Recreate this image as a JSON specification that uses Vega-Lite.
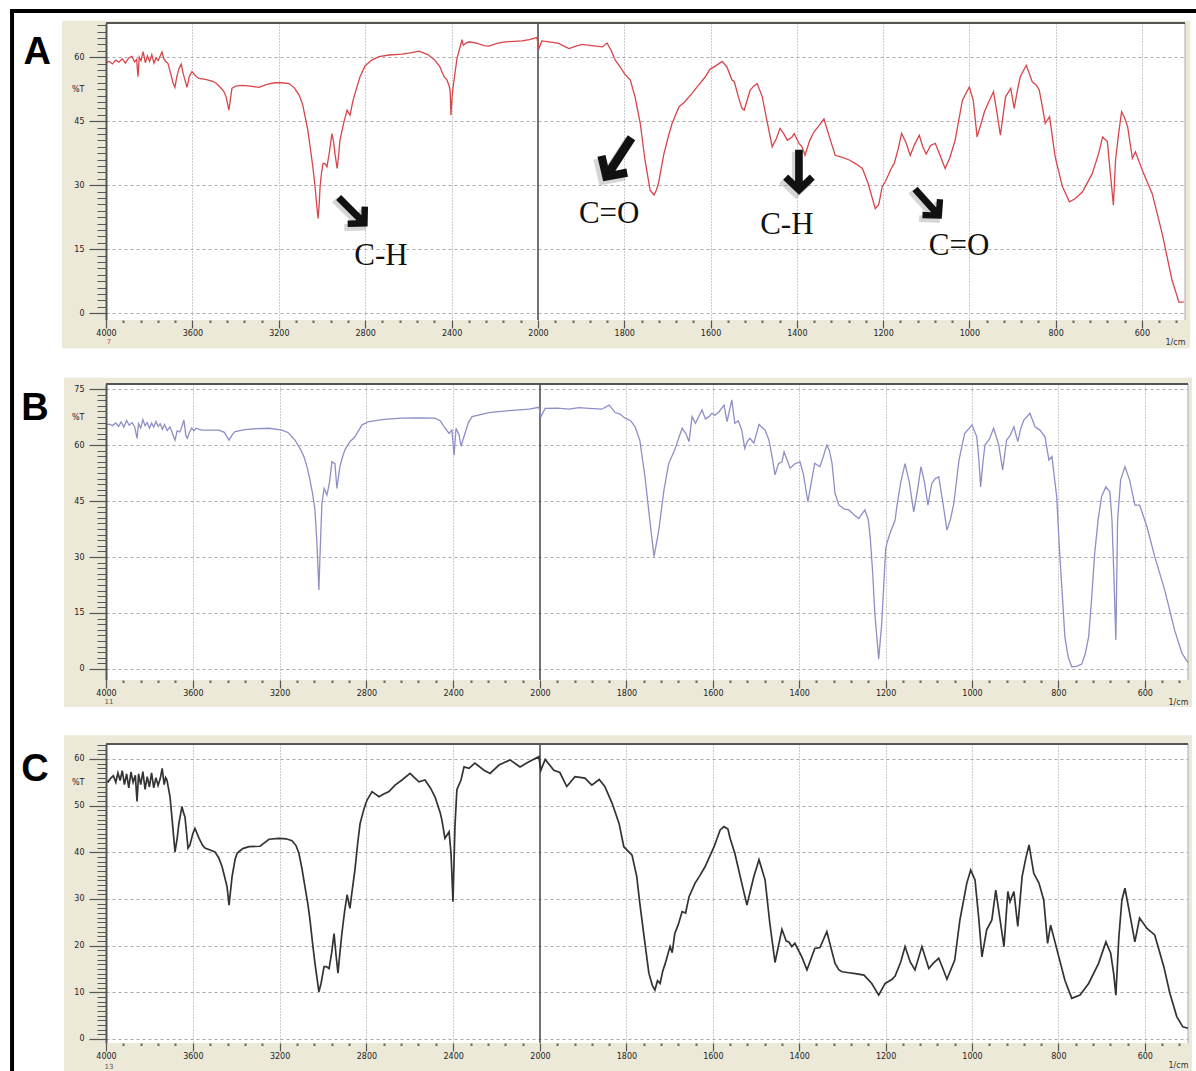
{
  "$schema": "https://vega.github.io/schema/vega-lite/v6.json",
  "padding": {"left": 8, "top": 9, "right": 0, "bottom": 0},
  "background": "white",
  "bounds": "flush",
  "spacing": 64,
  "config": {
    "view": {"stroke": null, "fill": "white"},
    "axis": {"labelFont": "DejaVu Sans", "labelFontSize": 8, "labelColor": "#222", "titleFont": "DejaVu Sans", "labelOverlap": false, "labelFlush": false}
  },
  "datasets": {
    "a": [
      {"wn":4000,"t":58.7},{"wn":3985,"t":59.0},{"wn":3970,"t":58.4},{"wn":3955,"t":59.3},{"wn":3940,"t":58.8},{"wn":3925,"t":59.6},{"wn":3910,"t":58.6},{"wn":3895,"t":59.8},{"wn":3880,"t":60.2},{"wn":3868,"t":58.9},{"wn":3858,"t":59.5},{"wn":3852,"t":55.4},{"wn":3846,"t":60.0},{"wn":3838,"t":59.2},{"wn":3828,"t":61.3},{"wn":3818,"t":58.7},{"wn":3808,"t":60.3},{"wn":3798,"t":59.0},{"wn":3788,"t":60.6},{"wn":3778,"t":58.6},{"wn":3768,"t":59.8},{"wn":3758,"t":59.2},{"wn":3748,"t":60.4},{"wn":3741,"t":61.2},{"wn":3732,"t":59.6},{"wn":3722,"t":58.9},{"wn":3713,"t":58.5},{"wn":3700,"t":56.0},{"wn":3690,"t":54.0},{"wn":3681,"t":52.9},{"wn":3672,"t":55.5},{"wn":3662,"t":57.3},{"wn":3652,"t":58.4},{"wn":3642,"t":56.0},{"wn":3632,"t":54.2},{"wn":3625,"t":52.9},{"wn":3614,"t":55.5},{"wn":3602,"t":56.6},{"wn":3585,"t":55.6},{"wn":3570,"t":55.0},{"wn":3540,"t":54.8},{"wn":3509,"t":54.4},{"wn":3490,"t":53.9},{"wn":3472,"t":53.0},{"wn":3455,"t":52.0},{"wn":3444,"t":50.7},{"wn":3431,"t":47.6},{"wn":3417,"t":52.7},{"wn":3400,"t":53.2},{"wn":3370,"t":53.4},{"wn":3330,"t":53.2},{"wn":3292,"t":52.9},{"wn":3255,"t":53.6},{"wn":3218,"t":54.0},{"wn":3185,"t":54.0},{"wn":3153,"t":53.8},{"wn":3128,"t":52.8},{"wn":3106,"t":51.1},{"wn":3090,"t":49.0},{"wn":3078,"t":46.0},{"wn":3066,"t":43.0},{"wn":3055,"t":39.0},{"wn":3043,"t":34.5},{"wn":3032,"t":29.6},{"wn":3024,"t":25.0},{"wn":3018,"t":22.2},{"wn":3013,"t":25.5},{"wn":3009,"t":29.6},{"wn":3002,"t":33.0},{"wn":2995,"t":35.1},{"wn":2985,"t":35.0},{"wn":2977,"t":34.3},{"wn":2965,"t":38.0},{"wn":2954,"t":42.1},{"wn":2946,"t":40.0},{"wn":2940,"t":37.4},{"wn":2930,"t":33.9},{"wn":2923,"t":37.0},{"wn":2917,"t":40.5},{"wn":2900,"t":44.5},{"wn":2884,"t":47.6},{"wn":2870,"t":46.4},{"wn":2858,"t":49.5},{"wn":2847,"t":51.5},{"wn":2824,"t":55.4},{"wn":2800,"t":58.0},{"wn":2770,"t":59.3},{"wn":2736,"t":60.1},{"wn":2690,"t":60.5},{"wn":2630,"t":60.7},{"wn":2590,"t":61.0},{"wn":2551,"t":61.4},{"wn":2510,"t":60.6},{"wn":2477,"t":59.3},{"wn":2455,"t":57.8},{"wn":2435,"t":55.4},{"wn":2421,"t":54.6},{"wn":2410,"t":53.0},{"wn":2407,"t":52.3},{"wn":2403,"t":46.4},{"wn":2398,"t":50.5},{"wn":2393,"t":53.0},{"wn":2375,"t":59.7},{"wn":2360,"t":62.5},{"wn":2352,"t":64.1},{"wn":2346,"t":62.8},{"wn":2330,"t":63.4},{"wn":2319,"t":63.6},{"wn":2280,"t":63.2},{"wn":2250,"t":62.7},{"wn":2227,"t":62.6},{"wn":2190,"t":63.2},{"wn":2153,"t":63.6},{"wn":2110,"t":63.7},{"wn":2074,"t":63.8},{"wn":2040,"t":64.1},{"wn":2005,"t":64.6},{"wn":1998,"t":62.0},{"wn":1991,"t":63.8},{"wn":1970,"t":63.5},{"wn":1952,"t":63.2},{"wn":1940,"t":62.6},{"wn":1928,"t":62.0},{"wn":1912,"t":62.6},{"wn":1898,"t":63.0},{"wn":1875,"t":62.7},{"wn":1851,"t":62.4},{"wn":1840,"t":63.3},{"wn":1830,"t":61.5},{"wn":1821,"t":59.3},{"wn":1810,"t":57.8},{"wn":1800,"t":56.2},{"wn":1786,"t":54.6},{"wn":1775,"t":50.7},{"wn":1763,"t":44.5},{"wn":1752,"t":35.9},{"wn":1740,"t":28.8},{"wn":1731,"t":27.7},{"wn":1725,"t":29.0},{"wn":1720,"t":30.8},{"wn":1708,"t":37.4},{"wn":1696,"t":42.1},{"wn":1689,"t":44.5},{"wn":1673,"t":48.4},{"wn":1660,"t":49.5},{"wn":1643,"t":51.5},{"wn":1625,"t":53.8},{"wn":1612,"t":55.4},{"wn":1601,"t":57.2},{"wn":1589,"t":57.9},{"wn":1573,"t":59.0},{"wn":1562,"t":57.7},{"wn":1550,"t":54.6},{"wn":1545,"t":54.3},{"wn":1535,"t":50.5},{"wn":1527,"t":48.0},{"wn":1522,"t":47.6},{"wn":1508,"t":52.3},{"wn":1500,"t":53.2},{"wn":1492,"t":53.8},{"wn":1480,"t":50.7},{"wn":1470,"t":45.5},{"wn":1457,"t":39.0},{"wn":1447,"t":41.0},{"wn":1439,"t":43.3},{"wn":1430,"t":42.0},{"wn":1422,"t":40.5},{"wn":1411,"t":41.3},{"wn":1406,"t":42.1},{"wn":1395,"t":39.8},{"wn":1388,"t":39.0},{"wn":1381,"t":37.0},{"wn":1370,"t":40.5},{"wn":1360,"t":42.5},{"wn":1348,"t":44.0},{"wn":1337,"t":45.5},{"wn":1325,"t":41.5},{"wn":1311,"t":37.0},{"wn":1295,"t":36.5},{"wn":1278,"t":35.9},{"wn":1263,"t":35.0},{"wn":1248,"t":33.9},{"wn":1235,"t":30.5},{"wn":1218,"t":24.5},{"wn":1210,"t":25.5},{"wn":1202,"t":29.6},{"wn":1195,"t":30.8},{"wn":1179,"t":34.3},{"wn":1174,"t":35.1},{"wn":1165,"t":38.5},{"wn":1157,"t":42.1},{"wn":1147,"t":40.0},{"wn":1137,"t":37.0},{"wn":1127,"t":39.5},{"wn":1116,"t":41.7},{"wn":1108,"t":39.0},{"wn":1100,"t":37.3},{"wn":1090,"t":39.3},{"wn":1079,"t":39.8},{"wn":1068,"t":37.0},{"wn":1056,"t":33.9},{"wn":1045,"t":36.5},{"wn":1033,"t":40.5},{"wn":1016,"t":49.9},{"wn":1000,"t":53.0},{"wn":991,"t":49.9},{"wn":982,"t":41.3},{"wn":974,"t":44.0},{"wn":965,"t":47.2},{"wn":955,"t":49.5},{"wn":944,"t":51.9},{"wn":936,"t":47.0},{"wn":928,"t":41.7},{"wn":916,"t":50.7},{"wn":904,"t":52.7},{"wn":896,"t":48.0},{"wn":889,"t":52.0},{"wn":882,"t":55.4},{"wn":868,"t":58.1},{"wn":854,"t":54.2},{"wn":845,"t":53.5},{"wn":838,"t":52.3},{"wn":830,"t":48.0},{"wn":824,"t":44.5},{"wn":814,"t":46.0},{"wn":801,"t":36.6},{"wn":784,"t":29.6},{"wn":768,"t":26.1},{"wn":755,"t":26.8},{"wn":738,"t":28.4},{"wn":715,"t":32.7},{"wn":700,"t":37.5},{"wn":691,"t":41.3},{"wn":680,"t":40.2},{"wn":673,"t":32.7},{"wn":666,"t":25.3},{"wn":661,"t":35.9},{"wn":654,"t":42.0},{"wn":647,"t":47.2},{"wn":640,"t":45.8},{"wn":633,"t":43.7},{"wn":622,"t":36.3},{"wn":615,"t":37.8},{"wn":599,"t":33.5},{"wn":576,"t":28.0},{"wn":553,"t":18.7},{"wn":530,"t":7.7},{"wn":514,"t":2.6},{"wn":503,"t":2.6}
    ],
    "b": [
      {"wn":4000,"t":65.4},{"wn":3985,"t":65.6},{"wn":3970,"t":65.2},{"wn":3955,"t":65.9},{"wn":3942,"t":65.0},{"wn":3930,"t":66.2},{"wn":3918,"t":64.8},{"wn":3905,"t":66.6},{"wn":3893,"t":65.3},{"wn":3880,"t":66.0},{"wn":3868,"t":64.9},{"wn":3857,"t":61.8},{"wn":3850,"t":65.7},{"wn":3840,"t":64.6},{"wn":3830,"t":66.8},{"wn":3820,"t":65.2},{"wn":3810,"t":66.0},{"wn":3800,"t":64.5},{"wn":3790,"t":65.9},{"wn":3780,"t":64.8},{"wn":3770,"t":66.3},{"wn":3760,"t":65.0},{"wn":3750,"t":65.7},{"wn":3740,"t":64.2},{"wn":3730,"t":65.5},{"wn":3718,"t":63.9},{"wn":3705,"t":64.8},{"wn":3693,"t":63.0},{"wn":3682,"t":61.3},{"wn":3672,"t":63.8},{"wn":3660,"t":63.5},{"wn":3650,"t":65.0},{"wn":3641,"t":66.7},{"wn":3632,"t":62.5},{"wn":3625,"t":61.8},{"wn":3615,"t":63.5},{"wn":3605,"t":64.6},{"wn":3595,"t":63.8},{"wn":3585,"t":64.5},{"wn":3570,"t":64.2},{"wn":3558,"t":64.0},{"wn":3520,"t":64.0},{"wn":3479,"t":64.0},{"wn":3455,"t":63.4},{"wn":3433,"t":61.3},{"wn":3418,"t":62.8},{"wn":3405,"t":63.6},{"wn":3360,"t":64.1},{"wn":3300,"t":64.4},{"wn":3249,"t":64.5},{"wn":3189,"t":64.0},{"wn":3160,"t":63.3},{"wn":3129,"t":61.3},{"wn":3105,"t":59.0},{"wn":3088,"t":56.9},{"wn":3073,"t":54.0},{"wn":3060,"t":50.6},{"wn":3048,"t":47.0},{"wn":3037,"t":42.6},{"wn":3028,"t":33.7},{"wn":3019,"t":21.2},{"wn":3014,"t":30.1},{"wn":3005,"t":44.4},{"wn":2995,"t":48.4},{"wn":2982,"t":46.6},{"wn":2970,"t":50.0},{"wn":2959,"t":55.5},{"wn":2945,"t":55.0},{"wn":2936,"t":48.4},{"wn":2922,"t":54.2},{"wn":2910,"t":56.8},{"wn":2899,"t":58.7},{"wn":2876,"t":60.9},{"wn":2853,"t":62.2},{"wn":2820,"t":65.4},{"wn":2788,"t":66.3},{"wn":2720,"t":66.9},{"wn":2636,"t":67.2},{"wn":2560,"t":67.3},{"wn":2484,"t":67.2},{"wn":2460,"t":66.5},{"wn":2442,"t":64.9},{"wn":2419,"t":63.1},{"wn":2406,"t":64.0},{"wn":2396,"t":57.3},{"wn":2387,"t":64.5},{"wn":2373,"t":62.7},{"wn":2364,"t":59.7},{"wn":2346,"t":63.1},{"wn":2330,"t":66.0},{"wn":2313,"t":67.6},{"wn":2235,"t":68.7},{"wn":2143,"t":69.2},{"wn":2051,"t":69.6},{"wn":2005,"t":70.1},{"wn":1998,"t":67.6},{"wn":1988,"t":69.8},{"wn":1960,"t":69.9},{"wn":1933,"t":69.6},{"wn":1910,"t":70.0},{"wn":1887,"t":69.8},{"wn":1857,"t":69.6},{"wn":1840,"t":70.7},{"wn":1826,"t":68.7},{"wn":1815,"t":68.3},{"wn":1803,"t":67.2},{"wn":1790,"t":66.5},{"wn":1780,"t":64.9},{"wn":1769,"t":61.3},{"wn":1757,"t":51.5},{"wn":1745,"t":39.0},{"wn":1736,"t":30.1},{"wn":1725,"t":37.2},{"wn":1713,"t":48.0},{"wn":1702,"t":55.1},{"wn":1688,"t":58.7},{"wn":1680,"t":61.5},{"wn":1671,"t":64.5},{"wn":1662,"t":63.0},{"wn":1655,"t":60.9},{"wn":1648,"t":67.6},{"wn":1640,"t":65.8},{"wn":1632,"t":67.8},{"wn":1625,"t":69.4},{"wn":1617,"t":67.0},{"wn":1609,"t":67.6},{"wn":1602,"t":68.5},{"wn":1595,"t":68.0},{"wn":1585,"t":69.0},{"wn":1574,"t":70.7},{"wn":1567,"t":66.3},{"wn":1561,"t":69.5},{"wn":1556,"t":72.1},{"wn":1549,"t":65.8},{"wn":1541,"t":66.5},{"wn":1533,"t":64.0},{"wn":1526,"t":59.1},{"wn":1520,"t":61.0},{"wn":1514,"t":61.8},{"wn":1505,"t":60.5},{"wn":1493,"t":65.5},{"wn":1479,"t":64.0},{"wn":1470,"t":61.3},{"wn":1463,"t":57.0},{"wn":1456,"t":52.0},{"wn":1448,"t":55.0},{"wn":1440,"t":55.5},{"wn":1435,"t":58.2},{"wn":1428,"t":56.0},{"wn":1421,"t":53.8},{"wn":1410,"t":55.0},{"wn":1398,"t":55.5},{"wn":1390,"t":52.0},{"wn":1380,"t":44.8},{"wn":1372,"t":50.0},{"wn":1364,"t":55.1},{"wn":1352,"t":54.2},{"wn":1344,"t":57.0},{"wn":1336,"t":60.0},{"wn":1330,"t":58.5},{"wn":1324,"t":55.1},{"wn":1317,"t":47.0},{"wn":1308,"t":43.9},{"wn":1295,"t":42.8},{"wn":1285,"t":42.6},{"wn":1272,"t":41.2},{"wn":1262,"t":40.3},{"wn":1255,"t":41.5},{"wn":1248,"t":42.6},{"wn":1240,"t":40.0},{"wn":1236,"t":35.8},{"wn":1230,"t":26.0},{"wn":1225,"t":15.0},{"wn":1216,"t":2.7},{"wn":1209,"t":12.2},{"wn":1204,"t":23.0},{"wn":1200,"t":31.9},{"wn":1197,"t":33.7},{"wn":1190,"t":36.3},{"wn":1178,"t":39.9},{"wn":1174,"t":43.5},{"wn":1165,"t":50.0},{"wn":1155,"t":55.0},{"wn":1145,"t":50.0},{"wn":1135,"t":42.1},{"wn":1126,"t":48.0},{"wn":1118,"t":54.2},{"wn":1110,"t":50.0},{"wn":1102,"t":43.9},{"wn":1093,"t":49.7},{"wn":1085,"t":51.0},{"wn":1077,"t":51.5},{"wn":1068,"t":45.0},{"wn":1058,"t":37.2},{"wn":1050,"t":40.0},{"wn":1042,"t":44.4},{"wn":1030,"t":56.0},{"wn":1017,"t":63.1},{"wn":1000,"t":65.4},{"wn":989,"t":62.2},{"wn":984,"t":56.0},{"wn":980,"t":48.8},{"wn":975,"t":55.0},{"wn":970,"t":60.0},{"wn":960,"t":61.5},{"wn":950,"t":64.5},{"wn":938,"t":60.0},{"wn":929,"t":53.3},{"wn":920,"t":61.3},{"wn":912,"t":62.5},{"wn":903,"t":64.9},{"wn":894,"t":60.9},{"wn":887,"t":64.5},{"wn":880,"t":66.7},{"wn":866,"t":68.5},{"wn":854,"t":64.9},{"wn":843,"t":64.0},{"wn":831,"t":62.2},{"wn":822,"t":56.0},{"wn":815,"t":56.9},{"wn":810,"t":52.0},{"wn":804,"t":46.2},{"wn":797,"t":31.0},{"wn":790,"t":18.0},{"wn":785,"t":8.6},{"wn":777,"t":3.0},{"wn":769,"t":0.6},{"wn":758,"t":0.7},{"wn":746,"t":1.3},{"wn":738,"t":4.0},{"wn":730,"t":8.6},{"wn":723,"t":19.0},{"wn":716,"t":31.0},{"wn":708,"t":40.0},{"wn":700,"t":46.2},{"wn":690,"t":48.8},{"wn":681,"t":47.5},{"wn":676,"t":40.0},{"wn":672,"t":26.5},{"wn":667,"t":7.8},{"wn":663,"t":39.9},{"wn":656,"t":50.6},{"wn":646,"t":54.2},{"wn":635,"t":50.6},{"wn":623,"t":43.9},{"wn":612,"t":43.9},{"wn":595,"t":38.1},{"wn":577,"t":30.1},{"wn":554,"t":21.2},{"wn":531,"t":10.4},{"wn":514,"t":4.2},{"wn":500,"t":1.7}
    ],
    "c": [
      {"wn":4000,"t":55.3},{"wn":3990,"t":55.1},{"wn":3978,"t":55.9},{"wn":3966,"t":56.4},{"wn":3955,"t":55.0},{"wn":3945,"t":57.0},{"wn":3935,"t":55.4},{"wn":3925,"t":57.5},{"wn":3915,"t":54.5},{"wn":3905,"t":56.8},{"wn":3895,"t":53.8},{"wn":3885,"t":57.2},{"wn":3875,"t":55.0},{"wn":3865,"t":56.5},{"wn":3857,"t":50.9},{"wn":3850,"t":56.8},{"wn":3840,"t":54.5},{"wn":3830,"t":57.3},{"wn":3820,"t":53.5},{"wn":3810,"t":56.2},{"wn":3800,"t":54.0},{"wn":3790,"t":57.0},{"wn":3780,"t":53.8},{"wn":3770,"t":56.0},{"wn":3760,"t":54.3},{"wn":3750,"t":55.8},{"wn":3741,"t":58.0},{"wn":3732,"t":54.5},{"wn":3725,"t":56.0},{"wn":3719,"t":55.5},{"wn":3705,"t":51.9},{"wn":3695,"t":46.9},{"wn":3682,"t":40.1},{"wn":3672,"t":43.0},{"wn":3664,"t":46.2},{"wn":3650,"t":49.8},{"wn":3643,"t":48.5},{"wn":3636,"t":47.6},{"wn":3622,"t":40.9},{"wn":3613,"t":41.6},{"wn":3600,"t":44.0},{"wn":3590,"t":45.1},{"wn":3571,"t":43.0},{"wn":3555,"t":41.5},{"wn":3544,"t":40.9},{"wn":3520,"t":40.5},{"wn":3498,"t":40.1},{"wn":3480,"t":38.8},{"wn":3465,"t":36.9},{"wn":3452,"t":34.5},{"wn":3442,"t":32.6},{"wn":3433,"t":28.7},{"wn":3419,"t":34.8},{"wn":3405,"t":38.5},{"wn":3396,"t":39.8},{"wn":3370,"t":40.8},{"wn":3341,"t":41.2},{"wn":3290,"t":41.3},{"wn":3249,"t":42.8},{"wn":3203,"t":43.0},{"wn":3170,"t":42.9},{"wn":3143,"t":42.5},{"wn":3125,"t":41.5},{"wn":3111,"t":39.8},{"wn":3097,"t":36.5},{"wn":3083,"t":32.6},{"wn":3070,"t":29.0},{"wn":3060,"t":25.5},{"wn":3048,"t":20.5},{"wn":3037,"t":16.2},{"wn":3026,"t":12.5},{"wn":3019,"t":10.1},{"wn":3009,"t":11.9},{"wn":2995,"t":15.5},{"wn":2985,"t":15.5},{"wn":2972,"t":15.1},{"wn":2960,"t":18.5},{"wn":2949,"t":22.6},{"wn":2940,"t":18.0},{"wn":2931,"t":14.1},{"wn":2922,"t":18.5},{"wn":2913,"t":22.6},{"wn":2900,"t":27.5},{"wn":2889,"t":30.9},{"wn":2876,"t":28.0},{"wn":2865,"t":32.0},{"wn":2853,"t":36.2},{"wn":2840,"t":42.0},{"wn":2829,"t":46.2},{"wn":2810,"t":49.5},{"wn":2797,"t":51.2},{"wn":2774,"t":53.0},{"wn":2742,"t":51.9},{"wn":2720,"t":52.5},{"wn":2696,"t":53.0},{"wn":2668,"t":54.4},{"wn":2636,"t":55.5},{"wn":2599,"t":56.9},{"wn":2558,"t":55.1},{"wn":2530,"t":55.5},{"wn":2505,"t":53.8},{"wn":2484,"t":51.9},{"wn":2460,"t":48.5},{"wn":2452,"t":46.9},{"wn":2438,"t":43.0},{"wn":2419,"t":44.4},{"wn":2410,"t":39.8},{"wn":2401,"t":29.4},{"wn":2392,"t":45.5},{"wn":2383,"t":53.4},{"wn":2364,"t":55.5},{"wn":2350,"t":58.3},{"wn":2327,"t":58.0},{"wn":2300,"t":59.1},{"wn":2258,"t":57.6},{"wn":2230,"t":56.9},{"wn":2189,"t":58.7},{"wn":2138,"t":59.8},{"wn":2092,"t":58.3},{"wn":2051,"t":59.4},{"wn":2005,"t":60.5},{"wn":1998,"t":57.6},{"wn":1988,"t":59.9},{"wn":1968,"t":57.6},{"wn":1954,"t":57.1},{"wn":1938,"t":54.1},{"wn":1919,"t":56.2},{"wn":1896,"t":55.9},{"wn":1880,"t":54.4},{"wn":1863,"t":55.6},{"wn":1850,"t":54.1},{"wn":1833,"t":50.5},{"wn":1817,"t":46.2},{"wn":1806,"t":41.2},{"wn":1787,"t":39.4},{"wn":1776,"t":34.8},{"wn":1769,"t":29.1},{"wn":1759,"t":21.9},{"wn":1748,"t":14.1},{"wn":1740,"t":11.5},{"wn":1734,"t":10.5},{"wn":1728,"t":12.5},{"wn":1722,"t":11.9},{"wn":1716,"t":14.5},{"wn":1710,"t":16.2},{"wn":1699,"t":19.8},{"wn":1694,"t":18.5},{"wn":1688,"t":22.6},{"wn":1680,"t":24.5},{"wn":1671,"t":27.3},{"wn":1663,"t":27.0},{"wn":1655,"t":30.5},{"wn":1641,"t":33.4},{"wn":1630,"t":35.0},{"wn":1618,"t":36.9},{"wn":1597,"t":41.2},{"wn":1583,"t":44.8},{"wn":1574,"t":45.5},{"wn":1565,"t":45.0},{"wn":1560,"t":43.0},{"wn":1549,"t":39.8},{"wn":1533,"t":33.4},{"wn":1521,"t":28.7},{"wn":1505,"t":34.8},{"wn":1493,"t":38.4},{"wn":1479,"t":34.1},{"wn":1468,"t":24.8},{"wn":1456,"t":16.4},{"wn":1440,"t":23.5},{"wn":1430,"t":21.0},{"wn":1424,"t":20.8},{"wn":1417,"t":19.8},{"wn":1410,"t":20.5},{"wn":1394,"t":17.6},{"wn":1382,"t":14.8},{"wn":1364,"t":19.4},{"wn":1352,"t":19.6},{"wn":1336,"t":23.0},{"wn":1325,"t":19.0},{"wn":1317,"t":16.2},{"wn":1308,"t":14.8},{"wn":1301,"t":14.4},{"wn":1285,"t":14.2},{"wn":1270,"t":14.0},{"wn":1250,"t":13.7},{"wn":1232,"t":11.9},{"wn":1216,"t":9.4},{"wn":1201,"t":11.9},{"wn":1185,"t":12.8},{"wn":1178,"t":13.5},{"wn":1165,"t":16.5},{"wn":1155,"t":19.8},{"wn":1143,"t":16.5},{"wn":1132,"t":14.8},{"wn":1116,"t":19.8},{"wn":1100,"t":15.1},{"wn":1090,"t":16.2},{"wn":1077,"t":17.3},{"wn":1067,"t":15.0},{"wn":1058,"t":12.8},{"wn":1040,"t":16.9},{"wn":1028,"t":25.5},{"wn":1012,"t":33.4},{"wn":1003,"t":36.2},{"wn":993,"t":34.1},{"wn":984,"t":25.5},{"wn":977,"t":17.6},{"wn":966,"t":23.4},{"wn":954,"t":25.5},{"wn":945,"t":31.9},{"wn":935,"t":25.5},{"wn":926,"t":19.8},{"wn":917,"t":31.6},{"wn":912,"t":29.4},{"wn":903,"t":31.6},{"wn":894,"t":24.1},{"wn":884,"t":34.8},{"wn":876,"t":38.5},{"wn":868,"t":41.6},{"wn":857,"t":35.5},{"wn":845,"t":33.4},{"wn":834,"t":29.8},{"wn":825,"t":20.5},{"wn":818,"t":24.4},{"wn":799,"t":17.6},{"wn":785,"t":12.6},{"wn":769,"t":8.7},{"wn":750,"t":9.4},{"wn":730,"t":11.9},{"wn":707,"t":16.2},{"wn":690,"t":20.8},{"wn":679,"t":18.4},{"wn":672,"t":14.0},{"wn":667,"t":9.4},{"wn":660,"t":21.9},{"wn":653,"t":29.8},{"wn":646,"t":32.3},{"wn":635,"t":26.9},{"wn":623,"t":20.8},{"wn":612,"t":25.9},{"wn":595,"t":23.7},{"wn":577,"t":22.3},{"wn":556,"t":15.5},{"wn":542,"t":9.8},{"wn":526,"t":4.8},{"wn":512,"t":2.6},{"wn":500,"t":2.3}
    ],
    "notesA": [
      {"wn":2727,"t":13.4,"note":"C-H"},
      {"wn":1835,"t":23.2,"note":"C=O"},
      {"wn":1423,"t":20.7,"note":"C-H"},
      {"wn":1024,"t":15.8,"note":"C=O"}
    ]
  },
  "vconcat": [
    {
      "width": 1079,
      "height": 297,
      "data": {"values": [{}]},
      "resolve": {"axis": {"x": "independent", "y": "independent"}},
      "layer": [
        {
          "mark": {"type": "rect", "fill": "#ece9d8"},
          "encoding": {
            "x": {"datum": 4204, "type": "quantitative",
              "scale": {"domain": [4000, 2000, 500], "range": [0, 432, 1079], "zero": false, "nice": false},
              "axis": {"orient": "bottom", "values": [3920,3840,3760,3680,3520,3440,3360,3280,3120,3040,2960,2880,2720,2640,2560,2480,2320,2240,2160,2080,1960,1920,1880,1840,1760,1720,1680,1640,1560,1520,1480,1440,1360,1320,1280,1240,1160,1120,1080,1040,960,920,880,840,760,720,680,640,560,520], "title": null, "domain": false, "grid": false, "labels": false, "tickSize": 2.5, "tickWidth": 2, "tickColor": "#666", "zindex": 1}},
            "x2": {"datum": 4000},
            "y": {"datum": 68.5, "type": "quantitative",
              "scale": {"domain": [-1.6, 68], "zero": false, "nice": false},
              "axis": {"orient": "left", "values": [0,1.5,3,4.5,6,7.5,9,10.5,12,13.5,15,16.5,18,19.5,21,22.5,24,25.5,27,28.5,30,31.5,33,34.5,36,37.5,39,40.5,42,43.5,45,46.5,48,49.5,51,52.5,54,55.5,57,58.5,60,61.5,63,64.5,66,67.5], "title": null, "domain": false, "grid": false, "tickSize": 9, "tickWidth": 1, "tickColor": "#555", "labelExpr": "datum.value == 52.5 ? '%T' : ''", "labelPadding": 13, "zindex": 1}},
            "y2": {"datum": -8.2}
          }
        },
        {
          "mark": {"type": "rect", "fill": "#ece9d8"},
          "encoding": {
            "x": {"datum": 4000, "type": "quantitative", "axis": null},
            "x2": {"datum": 488},
            "y": {"datum": -1.6, "type": "quantitative", "axis": null},
            "y2": {"datum": -8.2}
          }
        },
        {
          "mark": {"type": "rect", "fill": "#ece9d8"},
          "encoding": {
            "x": {"datum": 500, "type": "quantitative", "axis": null},
            "x2": {"datum": 488},
            "y": {"datum": 68.5, "type": "quantitative", "axis": null},
            "y2": {"datum": -1.6}
          }
        },
        {
          "mark": {"type": "rect", "fill": "#ece9d8"},
          "encoding": {
            "x": {"datum": 4000, "type": "quantitative", "axis": null},
            "x2": {"datum": 488},
            "y": {"datum": 68.5, "type": "quantitative", "axis": null},
            "y2": {"datum": 68}
          }
        },
        {
          "mark": {"type": "rule", "color": "#444", "strokeWidth": 1.5},
          "encoding": {
            "x": {"datum": 2000, "type": "quantitative",
              "axis": {"orient": "bottom", "values": [3600,3200,2800,2400,1800,1600,1400,1200,1000,800,600], "title": null, "domain": false, "ticks": false, "labels": false, "grid": true, "gridColor": "#999", "gridDash": [1, 2], "gridWidth": 1, "zindex": 0}},
            "y": {"datum": -1.6, "type": "quantitative",
              "axis": {"orient": "left", "values": [0,15,30,45,60], "title": null, "domain": false, "ticks": false, "labels": false, "grid": true, "gridColor": "#aaa", "gridDash": [3, 3], "gridWidth": 1, "zindex": 0}},
            "y2": {"datum": 68}
          }
        },
        {
          "mark": {"type": "rule", "color": "#aaa", "strokeWidth": 1},
          "encoding": {
            "x": {"datum": 500, "type": "quantitative", "axis": null},
            "y": {"datum": -1.6, "type": "quantitative", "axis": null},
            "y2": {"datum": 68}
          }
        },
        {
          "mark": {"type": "rule", "color": "#555", "strokeWidth": 2},
          "encoding": {
            "x": {"datum": 4000, "type": "quantitative", "axis": null},
            "x2": {"datum": 500},
            "y": {"datum": 68, "type": "quantitative", "axis": null}
          }
        },
        {
          "data": {"name": "a"},
          "mark": {"type": "line", "color": "#d8454b", "strokeWidth": 1.3},
          "encoding": {
            "x": {"field": "wn", "type": "quantitative",
              "scale": {"domain": [4000, 2000, 500], "range": [0, 432, 1079], "zero": false, "nice": false},
              "axis": {"orient": "bottom", "values": [4000,3600,3200,2800,2400,2000,1800,1600,1400,1200,1000,800,600], "format": "d", "title": "1/cm", "titleAnchor": "end", "titleAlign": "right", "titleFontSize": 8, "titleFontWeight": "normal", "titleColor": "#333", "titlePadding": 1, "domain": false, "grid": false, "tickSize": 8, "tickColor": "#555", "tickWidth": 1.2, "labelPadding": 1, "zindex": 1}},
            "y": {"field": "t", "type": "quantitative",
              "scale": {"domain": [-1.6, 68], "zero": false, "nice": false},
              "axis": {"orient": "left", "values": [0,15,30,45,60], "title": null, "domain": true, "domainColor": "#555", "domainWidth": 2, "grid": false, "tickSize": 17, "tickColor": "#555", "tickWidth": 1.2, "labelPadding": 5, "zindex": 1}}
          }
        },
        {
          "mark": {"type": "rule", "color": "black", "strokeWidth": 4},
          "encoding": {
            "x": {"datum": 4435, "type": "quantitative", "axis": null},
            "y": {"datum": 70.8, "type": "quantitative", "axis": null},
            "y2": {"datum": -177.6}
          }
        },
        {
          "mark": {"type": "rule", "color": "black", "strokeWidth": 4},
          "encoding": {
            "x": {"datum": 4444, "type": "quantitative", "axis": null},
            "x2": {"datum": 470},
            "y": {"datum": 70.8, "type": "quantitative", "axis": null}
          }
        },
        {
          "mark": {"type": "text", "text": "A", "font": "Liberation Sans", "fontSize": 38, "fontWeight": "bold", "align": "center", "baseline": "middle", "color": "black"},
          "encoding": {
            "x": {"datum": 4319, "type": "quantitative", "axis": null},
            "y": {"datum": 61.0, "type": "quantitative", "axis": null}
          }
        },
        {
          "mark": {"type": "text", "text": "7", "font": "DejaVu Sans", "fontSize": 7, "align": "center", "baseline": "middle", "color": "#d8454b"},
          "encoding": {
            "x": {"datum": 3986, "type": "quantitative", "axis": null},
            "y": {"datum": -6.75, "type": "quantitative", "axis": null}
          }
        },
        {
          "data": {"name": "notesA"},
          "mark": {"type": "text", "font": "Liberation Serif", "fontSize": 31, "align": "center", "baseline": "middle", "color": "#111"},
          "encoding": {
            "x": {"field": "wn", "type": "quantitative", "axis": null},
            "y": {"field": "t", "type": "quantitative", "axis": null},
            "text": {"field": "note"}
          }
        },
        {
          "mark": {"type": "point", "shape": "M -0.17 -1 L 0.17 -1 L 0.17 0.4 L 0.48 0.1 L 0.7 0.33 L 0 1 L -0.7 0.33 L -0.48 0.1 L -0.17 0.4 Z", "filled": true, "color": "#888", "opacity": 0.35, "strokeWidth": 0, "size": 1900, "angle": 315, "xOffset": -3, "yOffset": 3},
          "encoding": {
            "x": {"datum": 2856, "type": "quantitative", "axis": null},
            "y": {"datum": 23.7, "type": "quantitative", "axis": null}
          }
        },
        {
          "mark": {"type": "point", "shape": "M -0.17 -1 L 0.17 -1 L 0.17 0.4 L 0.48 0.1 L 0.7 0.33 L 0 1 L -0.7 0.33 L -0.48 0.1 L -0.17 0.4 Z", "filled": true, "color": "#111", "opacity": 1, "strokeWidth": 0, "size": 1681, "angle": 315},
          "encoding": {
            "x": {"datum": 2856, "type": "quantitative", "axis": null},
            "y": {"datum": 23.7, "type": "quantitative", "axis": null}
          }
        },
        {
          "mark": {"type": "point", "shape": "M -0.17 -1 L 0.17 -1 L 0.17 0.4 L 0.48 0.1 L 0.7 0.33 L 0 1 L -0.7 0.33 L -0.48 0.1 L -0.17 0.4 Z", "filled": true, "color": "#888", "opacity": 0.35, "strokeWidth": 0, "size": 3000, "angle": 33, "xOffset": -3, "yOffset": 3},
          "encoding": {
            "x": {"datum": 1816, "type": "quantitative", "axis": null},
            "y": {"datum": 36.0, "type": "quantitative", "axis": null}
          }
        },
        {
          "mark": {"type": "point", "shape": "M -0.17 -1 L 0.17 -1 L 0.17 0.4 L 0.48 0.1 L 0.7 0.33 L 0 1 L -0.7 0.33 L -0.48 0.1 L -0.17 0.4 Z", "filled": true, "color": "#111", "opacity": 1, "strokeWidth": 0, "size": 2700, "angle": 33},
          "encoding": {
            "x": {"datum": 1816, "type": "quantitative", "axis": null},
            "y": {"datum": 36.0, "type": "quantitative", "axis": null}
          }
        },
        {
          "mark": {"type": "point", "shape": "M -0.17 -1 L 0.17 -1 L 0.17 0.4 L 0.48 0.1 L 0.7 0.33 L 0 1 L -0.7 0.33 L -0.48 0.1 L -0.17 0.4 Z", "filled": true, "color": "#888", "opacity": 0.35, "strokeWidth": 0, "size": 2250, "angle": 0, "xOffset": -3, "yOffset": 3},
          "encoding": {
            "x": {"datum": 1395, "type": "quantitative", "axis": null},
            "y": {"datum": 33.0, "type": "quantitative", "axis": null}
          }
        },
        {
          "mark": {"type": "point", "shape": "M -0.17 -1 L 0.17 -1 L 0.17 0.4 L 0.48 0.1 L 0.7 0.33 L 0 1 L -0.7 0.33 L -0.48 0.1 L -0.17 0.4 Z", "filled": true, "color": "#111", "opacity": 1, "strokeWidth": 0, "size": 2025, "angle": 0},
          "encoding": {
            "x": {"datum": 1395, "type": "quantitative", "axis": null},
            "y": {"datum": 33.0, "type": "quantitative", "axis": null}
          }
        },
        {
          "mark": {"type": "point", "shape": "M -0.17 -1 L 0.17 -1 L 0.17 0.4 L 0.48 0.1 L 0.7 0.33 L 0 1 L -0.7 0.33 L -0.48 0.1 L -0.17 0.4 Z", "filled": true, "color": "#888", "opacity": 0.35, "strokeWidth": 0, "size": 1800, "angle": 318, "xOffset": -3, "yOffset": 3},
          "encoding": {
            "x": {"datum": 1095, "type": "quantitative", "axis": null},
            "y": {"datum": 25.6, "type": "quantitative", "axis": null}
          }
        },
        {
          "mark": {"type": "point", "shape": "M -0.17 -1 L 0.17 -1 L 0.17 0.4 L 0.48 0.1 L 0.7 0.33 L 0 1 L -0.7 0.33 L -0.48 0.1 L -0.17 0.4 Z", "filled": true, "color": "#111", "opacity": 1, "strokeWidth": 0, "size": 1600, "angle": 318},
          "encoding": {
            "x": {"datum": 1095, "type": "quantitative", "axis": null},
            "y": {"datum": 25.6, "type": "quantitative", "axis": null}
          }
        }
      ]
    },
    {
      "width": 1082,
      "height": 296,
      "data": {"values": [{}]},
      "resolve": {"axis": {"x": "independent", "y": "independent"}},
      "layer": [
        {
          "mark": {"type": "rect", "fill": "#ece9d8"},
          "encoding": {
            "x": {"datum": 4194, "type": "quantitative",
              "scale": {"domain": [4000, 2000, 500], "range": [0, 434, 1082], "zero": false, "nice": false},
              "axis": {"orient": "bottom", "values": [3920,3840,3760,3680,3520,3440,3360,3280,3120,3040,2960,2880,2720,2640,2560,2480,2320,2240,2160,2080,1960,1920,1880,1840,1760,1720,1680,1640,1560,1520,1480,1440,1360,1320,1280,1240,1160,1120,1080,1040,960,920,880,840,760,720,680,640,560,520], "title": null, "domain": false, "grid": false, "labels": false, "tickSize": 2.5, "tickWidth": 2, "tickColor": "#666", "zindex": 1}},
            "x2": {"datum": 4000},
            "y": {"datum": 78.0, "type": "quantitative",
              "scale": {"domain": [-2.95, 76.35], "zero": false, "nice": false},
              "axis": {"orient": "left", "values": [0,1.5,3,4.5,6,7.5,9,10.5,12,13.5,15,16.5,18,19.5,21,22.5,24,25.5,27,28.5,30,31.5,33,34.5,36,37.5,39,40.5,42,43.5,45,46.5,48,49.5,51,52.5,54,55.5,57,58.5,60,61.5,63,64.5,66,67.5,69,70.5,72,73.5,75], "title": null, "domain": false, "grid": false, "tickSize": 9, "tickWidth": 1, "tickColor": "#555", "labelExpr": "datum.value == 67.5 ? '%T' : ''", "labelPadding": 13, "zindex": 1}},
            "y2": {"datum": -10.2}
          }
        },
        {
          "mark": {"type": "rect", "fill": "#ece9d8"},
          "encoding": {
            "x": {"datum": 4000, "type": "quantitative", "axis": null},
            "x2": {"datum": 491},
            "y": {"datum": -2.95, "type": "quantitative", "axis": null},
            "y2": {"datum": -10.2}
          }
        },
        {
          "mark": {"type": "rect", "fill": "#ece9d8"},
          "encoding": {
            "x": {"datum": 500, "type": "quantitative", "axis": null},
            "x2": {"datum": 491},
            "y": {"datum": 78.0, "type": "quantitative", "axis": null},
            "y2": {"datum": -2.95}
          }
        },
        {
          "mark": {"type": "rect", "fill": "#ece9d8"},
          "encoding": {
            "x": {"datum": 4000, "type": "quantitative", "axis": null},
            "x2": {"datum": 491},
            "y": {"datum": 78.0, "type": "quantitative", "axis": null},
            "y2": {"datum": 76.35}
          }
        },
        {
          "mark": {"type": "rule", "color": "#444", "strokeWidth": 1.5},
          "encoding": {
            "x": {"datum": 2000, "type": "quantitative",
              "axis": {"orient": "bottom", "values": [3600,3200,2800,2400,1800,1600,1400,1200,1000,800,600], "title": null, "domain": false, "ticks": false, "labels": false, "grid": true, "gridColor": "#999", "gridDash": [1, 2], "gridWidth": 1, "zindex": 0}},
            "y": {"datum": -2.95, "type": "quantitative",
              "axis": {"orient": "left", "values": [0,15,30,45,60,75], "title": null, "domain": false, "ticks": false, "labels": false, "grid": true, "gridColor": "#aaa", "gridDash": [3, 3], "gridWidth": 1, "zindex": 0}},
            "y2": {"datum": 76.35}
          }
        },
        {
          "mark": {"type": "rule", "color": "#aaa", "strokeWidth": 1},
          "encoding": {
            "x": {"datum": 500, "type": "quantitative", "axis": null},
            "y": {"datum": -2.95, "type": "quantitative", "axis": null},
            "y2": {"datum": 76.35}
          }
        },
        {
          "mark": {"type": "rule", "color": "#555", "strokeWidth": 2},
          "encoding": {
            "x": {"datum": 4000, "type": "quantitative", "axis": null},
            "x2": {"datum": 500},
            "y": {"datum": 76.35, "type": "quantitative", "axis": null}
          }
        },
        {
          "data": {"name": "b"},
          "mark": {"type": "line", "color": "#8d8fc6", "strokeWidth": 1.3},
          "encoding": {
            "x": {"field": "wn", "type": "quantitative",
              "scale": {"domain": [4000, 2000, 500], "range": [0, 434, 1082], "zero": false, "nice": false},
              "axis": {"orient": "bottom", "values": [4000,3600,3200,2800,2400,2000,1800,1600,1400,1200,1000,800,600], "format": "d", "title": "1/cm", "titleAnchor": "end", "titleAlign": "right", "titleFontSize": 8, "titleFontWeight": "normal", "titleColor": "#333", "titlePadding": 1, "domain": false, "grid": false, "tickSize": 8, "tickColor": "#555", "tickWidth": 1.2, "labelPadding": 1, "zindex": 1}},
            "y": {"field": "t", "type": "quantitative",
              "scale": {"domain": [-2.95, 76.35], "zero": false, "nice": false},
              "axis": {"orient": "left", "values": [0,15,30,45,60,75], "title": null, "domain": true, "domainColor": "#555", "domainWidth": 2, "grid": false, "tickSize": 17, "tickColor": "#555", "tickWidth": 1.2, "labelPadding": 5, "zindex": 1}}
          }
        },
        {
          "mark": {"type": "text", "text": "B", "font": "Liberation Sans", "fontSize": 38, "fontWeight": "bold", "align": "center", "baseline": "middle", "color": "black"},
          "encoding": {
            "x": {"datum": 4327, "type": "quantitative", "axis": null},
            "y": {"datum": 69.6, "type": "quantitative", "axis": null}
          }
        },
        {
          "mark": {"type": "text", "text": "11", "font": "DejaVu Sans", "fontSize": 7, "align": "center", "baseline": "middle", "color": "#555"},
          "encoding": {
            "x": {"datum": 3986, "type": "quantitative", "axis": null},
            "y": {"datum": -8.8, "type": "quantitative", "axis": null}
          }
        }
      ]
    },
    {
      "width": 1082,
      "height": 299,
      "data": {"values": [{}]},
      "resolve": {"axis": {"x": "independent", "y": "independent"}},
      "layer": [
        {
          "mark": {"type": "rect", "fill": "#ece9d8"},
          "encoding": {
            "x": {"datum": 4194, "type": "quantitative",
              "scale": {"domain": [4000, 2000, 500], "range": [0, 434, 1082], "zero": false, "nice": false},
              "axis": {"orient": "bottom", "values": [3920,3840,3760,3680,3520,3440,3360,3280,3120,3040,2960,2880,2720,2640,2560,2480,2320,2240,2160,2080,1960,1920,1880,1840,1760,1720,1680,1640,1560,1520,1480,1440,1360,1320,1280,1240,1160,1120,1080,1040,960,920,880,840,760,720,680,640,560,520], "title": null, "domain": false, "grid": false, "labels": false, "tickSize": 2.5, "tickWidth": 2, "tickColor": "#666", "zindex": 1}},
            "x2": {"datum": 4000},
            "y": {"datum": 65.1, "type": "quantitative",
              "scale": {"domain": [-0.86, 63.21], "zero": false, "nice": false},
              "axis": {"orient": "left", "values": [0,1,2,3,4,5,6,7,8,9,10,11,12,13,14,15,16,17,18,19,20,21,22,23,24,25,26,27,28,29,30,31,32,33,34,35,36,37,38,39,40,41,42,43,44,45,46,47,48,49,50,51,52,53,54,55,56,57,58,59,60,61,62,63], "title": null, "domain": false, "grid": false, "tickSize": 9, "tickWidth": 1, "tickColor": "#555", "labelExpr": "datum.value == 55 ? '%T' : ''", "labelPadding": 13, "zindex": 1}},
            "y2": {"datum": -6.86}
          }
        },
        {
          "mark": {"type": "rect", "fill": "#ece9d8"},
          "encoding": {
            "x": {"datum": 4000, "type": "quantitative", "axis": null},
            "x2": {"datum": 491},
            "y": {"datum": -0.86, "type": "quantitative", "axis": null},
            "y2": {"datum": -6.86}
          }
        },
        {
          "mark": {"type": "rect", "fill": "#ece9d8"},
          "encoding": {
            "x": {"datum": 500, "type": "quantitative", "axis": null},
            "x2": {"datum": 491},
            "y": {"datum": 65.1, "type": "quantitative", "axis": null},
            "y2": {"datum": -0.86}
          }
        },
        {
          "mark": {"type": "rect", "fill": "#ece9d8"},
          "encoding": {
            "x": {"datum": 4000, "type": "quantitative", "axis": null},
            "x2": {"datum": 491},
            "y": {"datum": 65.1, "type": "quantitative", "axis": null},
            "y2": {"datum": 63.21}
          }
        },
        {
          "mark": {"type": "rule", "color": "#444", "strokeWidth": 1.5},
          "encoding": {
            "x": {"datum": 2000, "type": "quantitative",
              "axis": {"orient": "bottom", "values": [3600,3200,2800,2400,1800,1600,1400,1200,1000,800,600], "title": null, "domain": false, "ticks": false, "labels": false, "grid": true, "gridColor": "#999", "gridDash": [1, 2], "gridWidth": 1, "zindex": 0}},
            "y": {"datum": -0.86, "type": "quantitative",
              "axis": {"orient": "left", "values": [0,10,20,30,40,50,60], "title": null, "domain": false, "ticks": false, "labels": false, "grid": true, "gridColor": "#aaa", "gridDash": [3, 3], "gridWidth": 1, "zindex": 0}},
            "y2": {"datum": 63.21}
          }
        },
        {
          "mark": {"type": "rule", "color": "#aaa", "strokeWidth": 1},
          "encoding": {
            "x": {"datum": 500, "type": "quantitative", "axis": null},
            "y": {"datum": -0.86, "type": "quantitative", "axis": null},
            "y2": {"datum": 63.21}
          }
        },
        {
          "mark": {"type": "rule", "color": "#555", "strokeWidth": 2},
          "encoding": {
            "x": {"datum": 4000, "type": "quantitative", "axis": null},
            "x2": {"datum": 500},
            "y": {"datum": 63.21, "type": "quantitative", "axis": null}
          }
        },
        {
          "data": {"name": "c"},
          "mark": {"type": "line", "color": "#333333", "strokeWidth": 1.7},
          "encoding": {
            "x": {"field": "wn", "type": "quantitative",
              "scale": {"domain": [4000, 2000, 500], "range": [0, 434, 1082], "zero": false, "nice": false},
              "axis": {"orient": "bottom", "values": [4000,3600,3200,2800,2400,2000,1800,1600,1400,1200,1000,800,600], "format": "d", "title": "1/cm", "titleAnchor": "end", "titleAlign": "right", "titleFontSize": 8, "titleFontWeight": "normal", "titleColor": "#333", "titlePadding": 1, "domain": false, "grid": false, "tickSize": 8, "tickColor": "#555", "tickWidth": 1.2, "labelPadding": 1, "zindex": 1}},
            "y": {"field": "t", "type": "quantitative",
              "scale": {"domain": [-0.86, 63.21], "zero": false, "nice": false},
              "axis": {"orient": "left", "values": [0,10,20,30,40,50,60], "title": null, "domain": true, "domainColor": "#555", "domainWidth": 2, "grid": false, "tickSize": 17, "tickColor": "#555", "tickWidth": 1.2, "labelPadding": 5, "zindex": 1}}
          }
        },
        {
          "mark": {"type": "text", "text": "C", "font": "Liberation Sans", "fontSize": 38, "fontWeight": "bold", "align": "center", "baseline": "middle", "color": "black"},
          "encoding": {
            "x": {"datum": 4327, "type": "quantitative", "axis": null},
            "y": {"datum": 57.6, "type": "quantitative", "axis": null}
          }
        },
        {
          "mark": {"type": "text", "text": "13", "font": "DejaVu Sans", "fontSize": 7, "align": "center", "baseline": "middle", "color": "#555"},
          "encoding": {
            "x": {"datum": 3986, "type": "quantitative", "axis": null},
            "y": {"datum": -6.0, "type": "quantitative", "axis": null}
          }
        }
      ]
    }
  ]
}
